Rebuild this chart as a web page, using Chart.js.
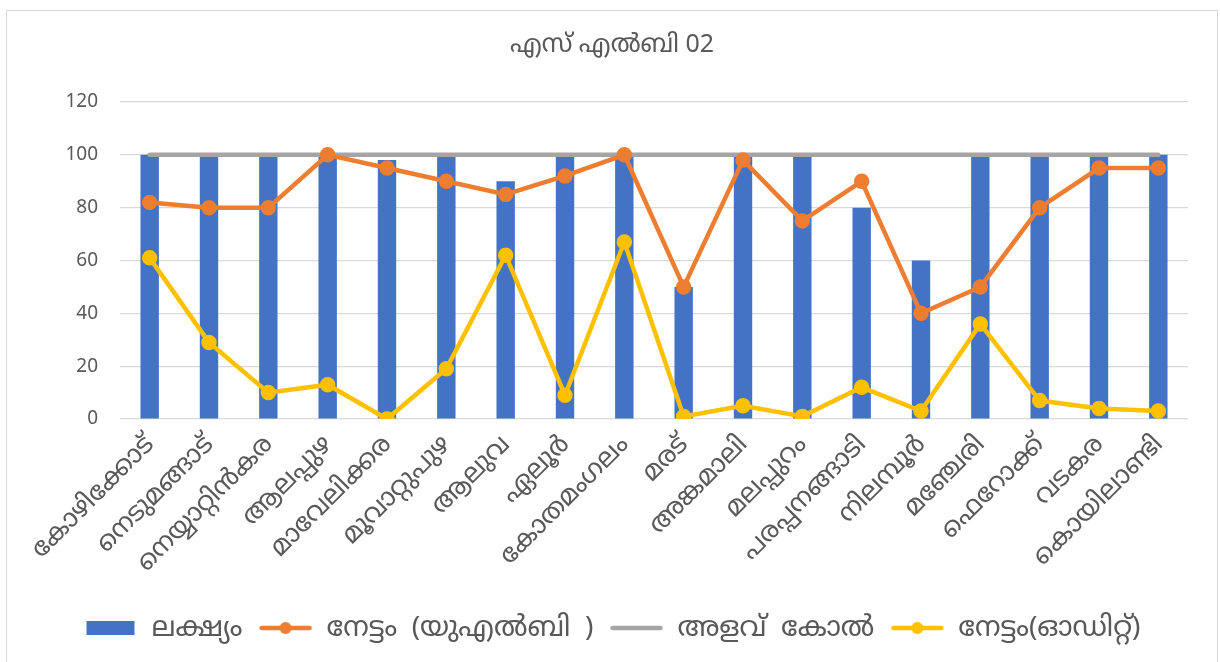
<!DOCTYPE html>
<html>
<head>
<meta charset="utf-8">
<script src="https://cdn.jsdelivr.net/npm/chart.js@4.4.0/dist/chart.umd.min.js"></script>
<style>
  body { margin: 0; background: #fff; }
  #box {
    position: absolute; left: 6px; top: 10px;
    width: 1210px; height: 660px;
    border: 1px solid #d9d9d9;
  }
  #myChart { display: block; }
</style>
</head>
<body>
<div id="box"><canvas id="myChart" width="1210" height="650"></canvas></div>
<script>
// places
let labels = [
    'കോഴിക്കോട്',
    'നെടുമങ്ങാട്',
    'നെയ്യാറ്റിൻകര',
    'ആലപ്പുഴ',
    'മാവേലിക്കര',
    'മൂവാറ്റുപുഴ',
    'ആലുവ',
    'ഏലൂർ',
    'കോതമംഗലം',
    'മരട്',
    'അങ്കമാലി',
    'മലപ്പുറം',
    'പരപ്പനങ്ങാടി',
    'നിലമ്പൂർ',
    'മഞ്ചേരി',
    'ഫെറോക്ക്',
    'വടകര',
    'കൊയിലാണ്ടി',
];

let target = [100, 100, 100, 100, 98, 100, 90, 100, 100, 50, 100, 100, 80, 60, 100, 100, 100, 100];
let ulb = [82, 80, 80, 100, 95, 90, 85, 92, 100, 50, 98, 75, 90, 40, 50, 80, 95, 95];
let benchmark = [100, 100, 100, 100, 100, 100, 100, 100, 100, 100, 100, 100, 100, 100, 100, 100, 100, 100];
let audit = [61, 29, 10, 13, 0, 19, 62, 9, 67, 1, 5, 1, 12, 3, 36, 7, 4, 3];

let yTicks = [0, 20, 40, 60, 80, 100, 120];

const FONT = "'Noto Sans', 'Noto Sans Malayalam', sans-serif";
const GREY_TEXT = '#595959';

// legend icons like excel: box for bars, line with dot for lines
function legendIcon(color, kind) {
    let c = document.createElement('canvas');
    c.width = 54;
    c.height = 16;
    let ctx = c.getContext('2d');
    if (kind === 'bar') {
        ctx.fillStyle = color;
        ctx.fillRect(3, 1, 48, 14);
    } else {
        ctx.strokeStyle = color;
        ctx.lineWidth = 4.5;
        ctx.lineCap = 'round';
        ctx.beginPath();
        ctx.moveTo(3, 8);
        ctx.lineTo(51, 8);
        ctx.stroke();
        if (kind === 'dot') {
            ctx.fillStyle = color;
            ctx.beginPath();
            ctx.arc(27, 8, 6, 0, Math.PI * 2);
            ctx.fill();
        }
    }
    return c;
}

let icons = [
    legendIcon('#4472C4', 'bar'),
    legendIcon('#ED7D31', 'dot'),
    legendIcon('#A5A5A5', 'line'),
    legendIcon('#FFC000', 'dot'),
];

let data = {
    labels: labels,
    datasets: [{
        type: 'bar',
        label: 'ലക്ഷ്യം',
        data: target,
        backgroundColor: '#4472C4',
        barPercentage: 0.31,
        categoryPercentage: 1,
        order: 4,
    }, {
        type: 'line',
        label: 'നേട്ടം  (യുഎൽബി  )',
        data: ulb,
        borderColor: '#ED7D31',
        backgroundColor: '#ED7D31',
        borderWidth: 4.5,
        pointRadius: 5.5,
        pointHoverRadius: 5.5,
        order: 2,
    }, {
        type: 'line',
        label: 'അളവ്  കോൽ',
        data: benchmark,
        borderColor: '#A5A5A5',
        backgroundColor: '#A5A5A5',
        borderWidth: 4.5,
        borderCapStyle: 'round',
        pointRadius: 0,
        order: 3,
    }, {
        type: 'line',
        label: 'നേട്ടം(ഓഡിറ്റ്)',
        data: audit,
        borderColor: '#FFC000',
        backgroundColor: '#FFC000',
        borderWidth: 4.5,
        pointRadius: 5.5,
        pointHoverRadius: 5.5,
        order: 1,
    }]
};

let config = {
    data: data,
    options: {
        responsive: false,
        animation: false,
        layout: { padding: { left: 29, right: 29, top: 0, bottom: 9 } },
        plugins: {
            title: {
                display: true,
                text: 'എസ്‌ എൽബി 02',
                color: GREY_TEXT,
                font: { family: FONT, size: 25, weight: 'normal' },
                padding: { top: 19, bottom: 42 },
            },
            legend: {
                position: 'bottom',
                labels: {
                    color: GREY_TEXT,
                    font: { family: FONT, size: 28 },
                    usePointStyle: true,
                    pointStyleWidth: 54,
                    padding: 16,
                    generateLabels: function(chart) {
                        return chart.data.datasets.map(function(ds, i) {
                            return {
                                text: ds.label,
                                pointStyle: icons[i],
                                fontColor: GREY_TEXT,
                                datasetIndex: i,
                                hidden: false,
                                lineWidth: 0,
                            };
                        });
                    }
                }
            },
            tooltip: { enabled: false }
        },
        scales: {
            x: {
                grid: { display: false },
                border: { display: false },
                afterFit: function(scale) { scale.height += 18; },
                ticks: {
                    color: GREY_TEXT,
                    font: { family: FONT, size: 26 },
                    minRotation: 45,
                    maxRotation: 45,
                    autoSkip: false,
                    padding: 2,
                },
            },
            y: {
                min: 0,
                max: 120,
                afterBuildTicks: function(scale) {
                    scale.ticks = yTicks.map(v => ({ value: v }));
                },
                afterFit: function(scale) { scale.width = 84; },
                grid: { color: '#d9d9d9', lineWidth: 1.3, drawTicks: false },
                border: { display: false },
                ticks: {
                    color: GREY_TEXT,
                    font: { family: FONT, size: 19 },
                    padding: 22,
                },
            }
        }
    }
};

const myChart = new Chart(document.getElementById('myChart'), config);
</script>
</body>
</html>
